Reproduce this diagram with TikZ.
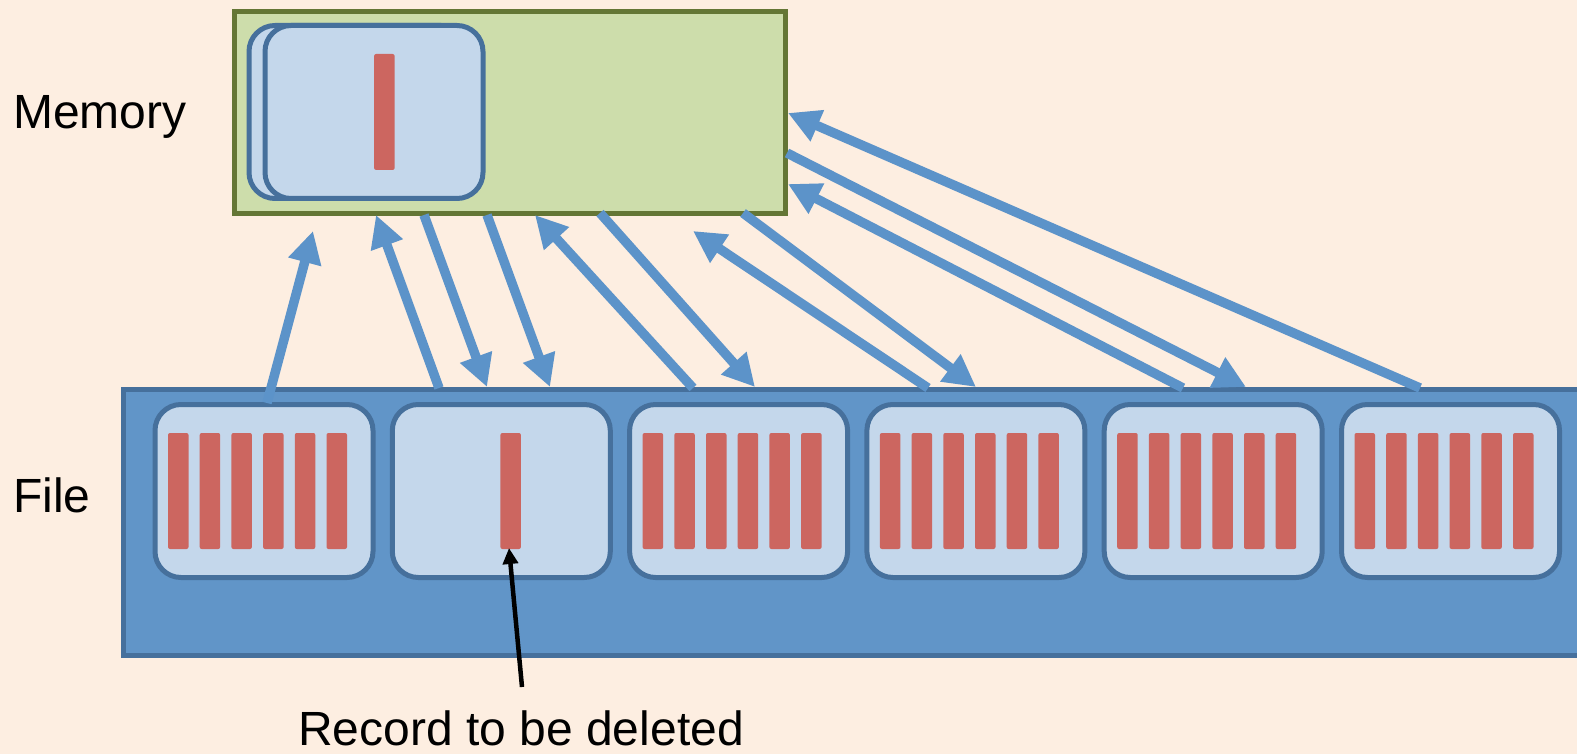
\documentclass[tikz,border=0pt]{standalone}
\usepackage{fontspec}
\setmainfont{Liberation Sans}
\usetikzlibrary{arrows.meta}

\definecolor{bgpeach}{HTML}{FDEEE1}
\definecolor{memfill}{HTML}{CDDDAB}
\definecolor{memline}{HTML}{647635}
\definecolor{filefill}{HTML}{6195C8}
\definecolor{boxline}{HTML}{46709C}
\definecolor{boxfill}{HTML}{C4D7EB}
\definecolor{recred}{HTML}{CC6660}
\definecolor{flowblue}{HTML}{5C93C9}

\begin{document}
\begin{tikzpicture}[x=1pt,y=-1pt,
  memstore/.style={draw=memline, fill=memfill, line width=5pt, inner sep=0pt,
    minimum width=551pt, minimum height=202pt},
  filestore/.style={draw=boxline, fill=filefill, line width=5pt, inner sep=0pt,
    minimum width=1500pt, minimum height=266pt},
  card/.style={draw=boxline, fill=boxfill, line width=5pt, rounded corners=26pt,
    inner sep=0pt, minimum width=218pt, minimum height=173pt},
  rec/.style={fill=recred, rounded corners=2pt},
  flow/.style={draw=flowblue, line width=9.5pt, -{Triangle[length=32pt,width=32pt]}},
  pointer/.style={draw=black, line width=4.5pt, -{Triangle[length=16pt,width=15pt]}},
  lbl/.style={font=\fontsize{48}{58}\selectfont, inner sep=0pt, anchor=base west}]

% page and background
\useasboundingbox (0,0) rectangle (1577,754);
\fill[bgpeach] (0,0) rectangle (1577,754);
\clip (0,0) rectangle (1577,754);

% labels
\node[lbl] (memlabel) at (13,129) {Memory};
\node[lbl] (filelabel) at (13,512) {File};
\node[lbl] (reclabel) at (298,745) {Record to be deleted};

% memory with a page loaded into it
\node[memstore] (mem) at (510,112.5) {};
\node[card] (memback) at (358,112) {};
\node[card] (memfront) at (374,112) {};
\fill[rec] (374.1,54) rectangle (394.6,170);

% file made of six pages
\node[filestore] (file) at (873.5,522.5) {};
\foreach \k in {1,...,6} {
  \node[card] (page\k) at ({264+237.3*(\k-1)},491) {};
}
% records of each page
\foreach \k in {1,3,4,5,6} {
  \foreach \i in {0,...,5} {
    \fill[rec] ({152+237.3*(\k-1)+16+31.7*\i},433) rectangle ++(20.5,116);
  }
}
\fill[rec] (500.4,433) rectangle (520.9,549);
\coordinate (target) at (509,548);

% read / write transfers between file and memory
\coordinate (t1) at (267,403);   \coordinate (h1) at (313,231);
\coordinate (t2) at (439,388);   \coordinate (h2) at (376,215);
\coordinate (t3) at (424,215);   \coordinate (h3) at (487,387);
\coordinate (t4) at (487,215);   \coordinate (h4) at (550,387);
\coordinate (t5) at (693,388);   \coordinate (h5) at (535,215);
\coordinate (t6) at (600,213);   \coordinate (h6) at (755,387);
\coordinate (t7) at (928,388);   \coordinate (h7) at (693,231);
\coordinate (t8) at (743,213);   \coordinate (h8) at (976,387);
\coordinate (t9) at (1183,388);  \coordinate (h9) at (788,184);
\coordinate (t10) at (787,153);  \coordinate (h10) at (1246,387);
\coordinate (t11) at (1420,388); \coordinate (h11) at (788,113);
\foreach \n in {1,...,11} {
  \draw[flow] (t\n) -- (h\n);
}

% pointer to the record
\coordinate (ptail) at (522,687);
\draw[pointer] (ptail) -- (target);
\end{tikzpicture}
\end{document}
